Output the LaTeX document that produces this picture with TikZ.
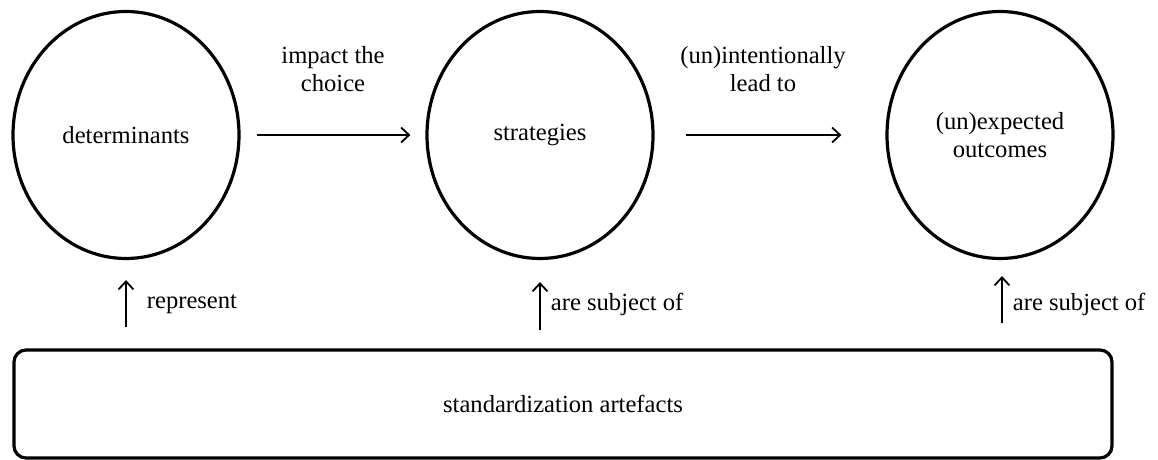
\documentclass[tikz,border=0pt]{standalone}
\usepackage{fontspec}
\setmainfont{Liberation Serif}
\usepackage{tikz}
\usetikzlibrary{shapes.geometric, arrows.meta}

\begin{document}
\begin{tikzpicture}[x=0.5pt, y=0.5pt,
        every node/.style={font=\fontsize{12.3}{14}\selectfont},
        circ/.style={draw, ellipse, line width=1.6pt, minimum width=113pt, minimum height=123.5pt, inner sep=0pt, align=center},
        base/.style={draw, rounded corners=6pt, line width=1.6pt, minimum width=549pt, minimum height=54pt},
        link/.style={-{Straight Barb[length=4pt, width=7.5pt]}, line width=0.9pt},
        lbl/.style={align=center, inner sep=0pt}]
        % Fix the size of the picture
        \useasboundingbox (0,0) rectangle (1158,460);
        
        % Draw the three circles
        \node[circ] (det) at (126,325) {determinants};
        \node[circ] (str) at (540,325) {strategies};
        \node[circ] (out) at (1000,325) {(un)expected\\outcomes};
        
        % Draw the box at the bottom
        \node[base] (art) at (563,56) {standardization artefacts};
        
        % Draw the horizontal arrows
        \draw[link, shorten <=8pt, shorten >=7.5pt] (det) -- (str);
        \draw[link, shorten <=15.5pt, shorten >=22pt] (str) -- (out);
        
        % Add labels above the horizontal arrows
        \node[lbl] (impact) at (333,391) {impact the\\choice};
        \node[lbl] (lead) at (763,391) {(un)intentionally\\lead to};
        
        % Draw the arrows from the box up to the circles
        \draw[link, shorten <=10.5pt, shorten >=10pt] (art.north -| det.south) -- (det.south)
            node[pos=0.5, right, xshift=10pt, inner sep=0pt] (rep) {represent};
        \draw[link, shorten <=9pt, shorten >=11pt] (art.north -| str.south) -- (str.south)
            node[pos=0.5, right, xshift=5pt, inner sep=0pt] (subj1) {are subject of};
        \draw[link, shorten <=12.5pt, shorten >=8pt] ([xshift=1pt]art.north -| out.south) -- ([xshift=1pt]out.south)
            node[pos=0.5, right, xshift=5pt, inner sep=0pt] (subj2) {are subject of};
    \end{tikzpicture}
\end{document}
